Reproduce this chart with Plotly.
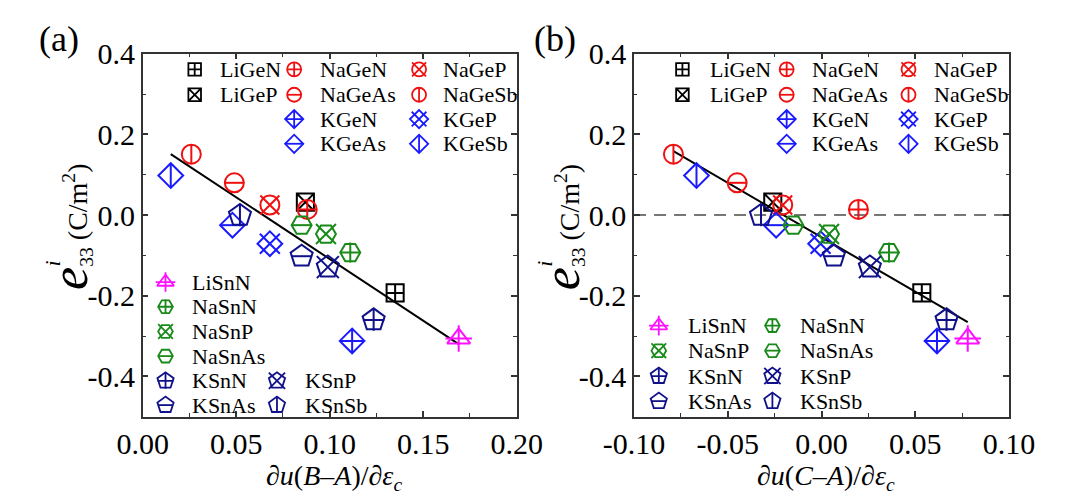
import plotly.graph_objects as go

# ---------------- data ----------------
materials = ["LiGeN", "LiGeP", "NaGeN", "NaGeAs", "NaGeP", "NaGeSb",
             "KGeN", "KGeAs", "KGeP", "KGeSb",
             "LiSnN", "NaSnN", "NaSnP", "NaSnAs", "KSnN", "KSnP", "KSnAs", "KSnSb"]
du_BA = [0.135, 0.087, 0.088, 0.049, 0.068, 0.026,
         0.112, 0.048, 0.068, 0.015,
         0.169, 0.111, 0.098, 0.085, 0.1235, 0.099, 0.085, 0.052]
du_CA = [0.0535, -0.026, 0.0197, -0.045, -0.0207, -0.079,
         0.0616, -0.0242, -0.0005, -0.0667,
         0.078, 0.036, 0.004, -0.015, 0.0667, 0.0258, 0.0066, -0.0323]
e33 = [-0.193, 0.032, 0.014, 0.080, 0.025, 0.151,
       -0.312, -0.025, -0.071, 0.098,
       -0.306, -0.093, -0.047, -0.025, -0.260, -0.129, -0.102, -0.001]

fit_a_x = [0.015, 0.169]
fit_a_slope, fit_a_icpt = -3.06, 0.197
fit_b_x = [-0.079, 0.078]
fit_b_slope, fit_b_icpt = -2.70, -0.055

xa_ticks = [0.00, 0.05, 0.10, 0.15, 0.20]
xa_labels = ["0.00", "0.05", "0.10", "0.15", "0.20"]
xb_ticks = [-0.10, -0.05, 0.00, 0.05, 0.10]
xb_labels = ["-0.10", "-0.05", "0.00", "0.05", "0.10"]
y_ticks = [-0.4, -0.2, 0.0, 0.2, 0.4]
y_labels = ["-0.4", "-0.2", "0.0", "0.2", "0.4"]

# ---------------- styles ----------------
FONT = "Liberation Serif"
BLACK, RED, BLUE, NAVY, GREEN, MAG = "#000000", "#f01010", "#1a1aff", "#10108a", "#1a8a1a", "#ff10ff"
# name: (base symbol, overlay symbol, overlay size factor, color, size multiplier)
STYLE = {
    "LiGeN": ("square-cross-open", None, 0, BLACK, 0.9),
    "LiGeP": ("square-x-open", None, 0, BLACK, 0.9),
    "NaGeN": ("circle-cross-open", None, 0, RED, 1.0),
    "NaGeAs": ("circle-open", "line-ew-open", 1 / 1.4, RED, 1.0),
    "NaGeP": ("circle-open", "x-thin-open", 1.0, RED, 1.0),
    "NaGeSb": ("circle-open", "line-ns-open", 1 / 1.4, RED, 1.0),
    "KGeN": ("diamond-cross-open", None, 0, BLUE, 1.0),
    "KGeAs": ("diamond-open", "line-ew-open", 1.3 / 1.4, BLUE, 1.0),
    "KGeP": ("diamond-open", "x-thin-open", 1.05, BLUE, 1.0),
    "KGeSb": ("diamond-open", "line-ns-open", 1.3 / 1.4, BLUE, 1.0),
    "LiSnN": ("triangle-up-open", "cross-thin-open", 0.95, MAG, 1.05),
    "NaSnN": ("hexagon2-open", "cross-thin-open", 1 / 1.4, GREEN, 1.05),
    "NaSnP": ("hexagon2-open", "x-thin-open", 1.0, GREEN, 1.05),
    "NaSnAs": ("hexagon2-open", "line-ew-open", 1 / 1.4, GREEN, 1.05),
    "KSnN": ("pentagon-open", "cross-thin-open", 0.66, NAVY, 1.22),
    "KSnP": ("pentagon-open", "x-thin-open", 0.95, NAVY, 1.22),
    "KSnAs": ("pentagon-open", "line-ew-open", 0.6, NAVY, 1.22),
    "KSnSb": ("pentagon-open", "line-ns-open", 0.66, NAVY, 1.22),
}
S_PLOT, S_LEG = 19, 14

XA_RANGE = [0.0, 0.2]
XB_RANGE = [-0.1, 0.1]
Y_RANGE = [-0.5, 0.4]

W, H = 1070, 499
dom_a = [118 / W, 513 / W]
dom_b = [637 / W, 1033 / W]
dom_y = [1 - 414 / H, 1 - 39 / H]

fig = go.Figure()


def add_marker(name, xs, ys, xref, yref, size, lw):
    base, over, fac, col, mult = STYLE[name]
    size = size * mult
    fig.add_trace(go.Scatter(x=xs, y=ys, mode="markers", xaxis=xref, yaxis=yref,
                             showlegend=False, cliponaxis=False,
                             marker=dict(symbol=base, size=size, color=col,
                                         line=dict(color=col, width=lw))))
    if over:
        fig.add_trace(go.Scatter(x=xs, y=ys, mode="markers", xaxis=xref, yaxis=yref,
                                 showlegend=False, cliponaxis=False,
                                 marker=dict(symbol=over, size=size * fac, color=col,
                                             line=dict(color=col, width=lw))))


# fit lines
fig.add_trace(go.Scatter(x=fit_a_x, y=[fit_a_slope * v + fit_a_icpt for v in fit_a_x],
                         mode="lines", line=dict(color="black", width=2), showlegend=False,
                         xaxis="x", yaxis="y"))
fig.add_trace(go.Scatter(x=fit_b_x, y=[fit_b_slope * v + fit_b_icpt for v in fit_b_x],
                         mode="lines", line=dict(color="black", width=2), showlegend=False,
                         xaxis="x2", yaxis="y2"))

for i, m in enumerate(materials):
    add_marker(m, [du_BA[i]], [e33[i]], "x", "y", S_PLOT, 2)
    add_marker(m, [du_CA[i]], [e33[i]], "x2", "y2", S_PLOT, 2)

# ---------------- legends (grid positions in axis-domain fractions) ----------------
leg_a = [  # name, symbol fx, text fx, fy
    ("LiGeN", 0.139, 0.200, 0.957), ("NaGeN", 0.405, 0.468, 0.957), ("NaGeP", 0.739, 0.797, 0.957),
    ("LiGeP", 0.139, 0.200, 0.887), ("NaGeAs", 0.405, 0.468, 0.887), ("NaGeSb", 0.739, 0.797, 0.887),
    ("KGeN", 0.405, 0.468, 0.820), ("KGeP", 0.739, 0.797, 0.820),
    ("KGeAs", 0.405, 0.468, 0.752), ("KGeSb", 0.739, 0.797, 0.752),
    ("LiSnN", 0.061, 0.127, 0.371), ("NaSnN", 0.061, 0.127, 0.303),
    ("NaSnP", 0.061, 0.127, 0.235), ("NaSnAs", 0.061, 0.127, 0.167),
    ("KSnN", 0.061, 0.127, 0.099), ("KSnP", 0.359, 0.428, 0.099),
    ("KSnAs", 0.061, 0.127, 0.032), ("KSnSb", 0.359, 0.428, 0.032),
]
leg_b = [
    ("LiGeN", 0.129, 0.197, 0.957), ("NaGeN", 0.407, 0.470, 0.957), ("NaGeP", 0.732, 0.795, 0.957),
    ("LiGeP", 0.129, 0.197, 0.887), ("NaGeAs", 0.407, 0.470, 0.887), ("NaGeSb", 0.732, 0.795, 0.887),
    ("KGeN", 0.407, 0.470, 0.820), ("KGeP", 0.732, 0.795, 0.820),
    ("KGeAs", 0.407, 0.470, 0.752), ("KGeSb", 0.732, 0.795, 0.752),
    ("LiSnN", 0.066, 0.139, 0.251), ("NaSnN", 0.369, 0.437, 0.251),
    ("NaSnP", 0.066, 0.139, 0.182), ("NaSnAs", 0.369, 0.437, 0.182),
    ("KSnN", 0.066, 0.139, 0.112), ("KSnP", 0.369, 0.437, 0.112),
    ("KSnAs", 0.066, 0.139, 0.043), ("KSnSb", 0.369, 0.437, 0.043),
]

annotations = []
for leg, xr, yr, rng in [(leg_a, "x", "y", XA_RANGE), (leg_b, "x2", "y2", XB_RANGE)]:
    for name, fx, tx, fy in leg:
        xd = rng[0] + fx * (rng[1] - rng[0])
        yd = Y_RANGE[0] + fy * (Y_RANGE[1] - Y_RANGE[0])
        add_marker(name, [xd], [yd], xr, yr, S_LEG, 1.8)
        annotations.append(dict(text=name, x=tx, y=fy, xref=xr + " domain", yref=yr + " domain",
                                xanchor="left", yanchor="middle", showarrow=False,
                                font=dict(family=FONT, size=22, color="black")))

# titles & panel labels
for cx, xt in [(320, "∂<i>u</i>(<i>B</i>–<i>A</i>)/∂<i>ε</i><sub><i>c</i></sub>"),
               (840, "∂<i>u</i>(<i>C</i>–<i>A</i>)/∂<i>ε</i><sub><i>c</i></sub>")]:
    annotations.append(dict(text=xt, x=cx / W, y=1 - 477 / H, xref="paper", yref="paper",
                            xanchor="center", yanchor="middle", showarrow=False,
                            font=dict(family=FONT, size=28, color="black")))
annotations.append(dict(text="(a)", x=30 / W, y=1 - 24 / H, xref="paper", yref="paper",
                        xanchor="center", yanchor="middle", showarrow=False,
                        font=dict(family=FONT, size=36, color="black")))
annotations.append(dict(text="(b)", x=553 / W, y=1 - 24 / H, xref="paper", yref="paper",
                        xanchor="center", yanchor="middle", showarrow=False,
                        font=dict(family=FONT, size=36, color="black")))
ytitle = "<span style='font-size:52px'><i>e</i></span><sub>33</sub> (C/m<sup>2</sup>)"
for cx in [40, 560]:
    annotations.append(dict(text=ytitle, x=cx / W, y=1 - 218 / H, xref="paper", yref="paper",
                            xanchor="center", yanchor="middle", showarrow=False, textangle=-90,
                            font=dict(family=FONT, size=28, color="black")))
    annotations.append(dict(text="<i>i</i>", x=(cx - 17) / W, y=1 - 256 / H, xref="paper", yref="paper",
                            xanchor="center", yanchor="middle", showarrow=False, textangle=-90,
                            font=dict(family=FONT, size=22, color="black")))

axc = dict(showline=True, linecolor="#333", linewidth=1.5, mirror="allticks", ticks="inside",
           ticklen=6, tickwidth=1.5, tickcolor="#333", showgrid=False, zeroline=False,
           tickfont=dict(family=FONT, size=30, color="black"), tickmode="array",
           minor=dict(ticks="inside", ticklen=3.5, tickwidth=1.2, tickcolor="#333"))

fig.update_layout(
    width=W, height=H, margin=dict(l=0, r=0, t=0, b=0),
    paper_bgcolor="white", plot_bgcolor="white",
    font=dict(family=FONT),
    xaxis=dict(axc, domain=dom_a, range=XA_RANGE, tickvals=xa_ticks, ticktext=xa_labels,
               anchor="y", minor=dict(axc["minor"], dtick=0.025, tick0=0)),
    yaxis=dict(axc, domain=dom_y, range=Y_RANGE, tickvals=y_ticks, ticktext=y_labels,
               anchor="x", minor=dict(axc["minor"], dtick=0.1, tick0=0)),
    xaxis2=dict(axc, domain=dom_b, range=XB_RANGE, tickvals=xb_ticks, ticktext=xb_labels,
                anchor="y2", minor=dict(axc["minor"], dtick=0.025, tick0=0)),
    yaxis2=dict(axc, domain=dom_y, range=Y_RANGE, tickvals=y_ticks, ticktext=y_labels,
                anchor="x2", minor=dict(axc["minor"], dtick=0.1, tick0=0)),
    shapes=[dict(type="line", xref="x2 domain", yref="y2", x0=0, x1=1, y0=0, y1=0,
                 line=dict(color="#777", width=2, dash="12px,8px"), layer="below")],
    annotations=annotations,
)

fig.write_html("out.html")
